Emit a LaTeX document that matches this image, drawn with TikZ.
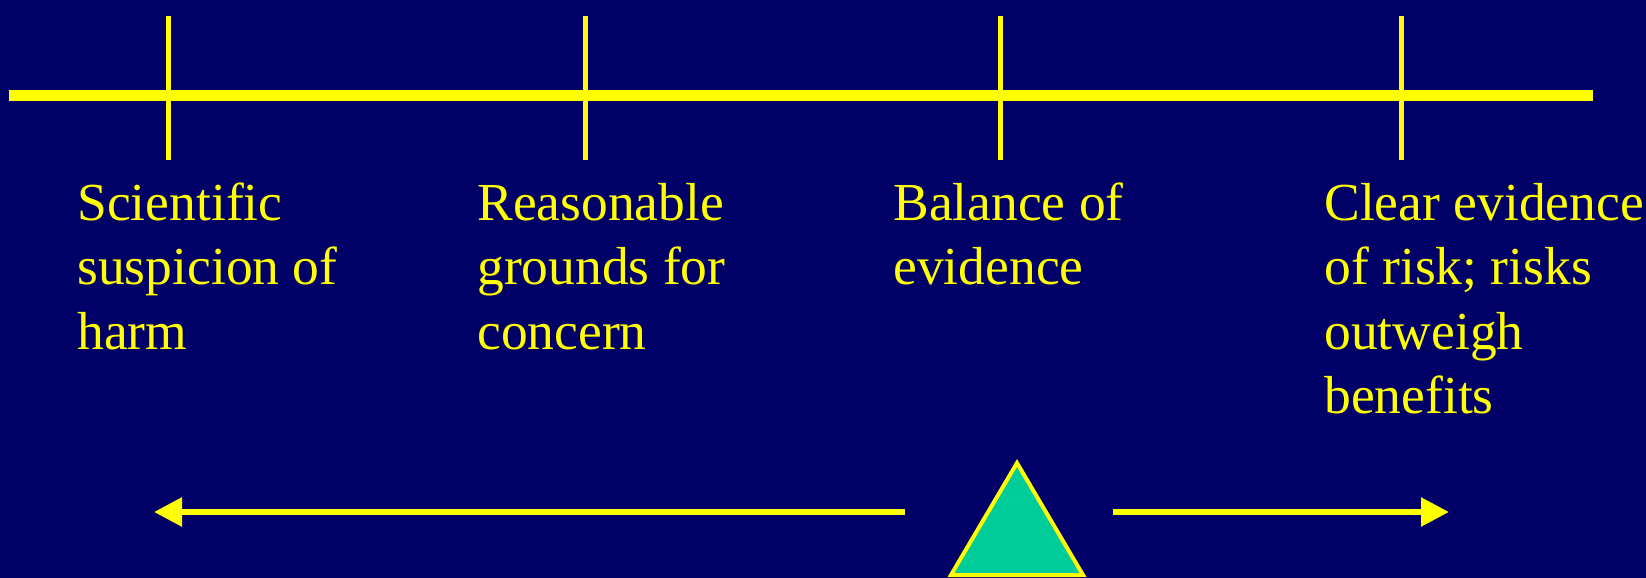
\documentclass[tikz,border=0pt]{standalone}
\usepackage{fontspec}
\setmainfont{Liberation Serif}
\usetikzlibrary{arrows.meta}
\definecolor{navybg}{RGB}{0,0,102}
\definecolor{yel}{RGB}{255,255,0}
\definecolor{teal}{RGB}{0,204,153}
\newcommand\linestack[1]{\vtop{\halign{##\hfil\cr#1\crcr}}}
\tikzset{
  axisline/.style={yel, line width=5.5pt},
  tickline/.style={yel, line width=2.5pt},
  dirarrow/.style={yel, line width=2.8pt, -{Triangle[length=14pt,width=14pt]}},
  label/.style={yel, anchor=base west, inner sep=0pt,
    font=\fontsize{26.75pt}{32.3pt}\selectfont},
}
\begin{document}
\begin{tikzpicture}[x=0.5pt,y=-0.5pt]
\fill[navybg] (0,0) rectangle (1646,578);
\useasboundingbox (0,0) rectangle (1646,578);
% main axis
\coordinate (L) at (8.5,95.5);
\coordinate (R) at (1593,95.5);
\draw[axisline] (L) -- (R);
% ticks
\foreach \x/\n in {168/t1,585/t2,1000/t3,1401/t4}{
  \coordinate (\n top) at (\x,16);
  \coordinate (\n bot) at (\x,160);
  \draw[tickline] (\n top) -- (\n bot);
}
% labels
\node[label] (s1) at (77,220) {\linestack{Scientific\cr suspicion of\cr harm}};
\node[label] (s2) at (477,220) {\linestack{Reasonable\cr grounds for\cr concern}};
\node[label] (s3) at (893,220) {\linestack{Balance of\cr evidence}};
\node[label] (s4) at (1324,220) {\linestack{Clear evidence\cr of risk; risks\cr outweigh\cr benefits}};
% arrows
\coordinate (a1s) at (905,512);
\coordinate (a1e) at (154,512);
\coordinate (a2s) at (1113,512);
\coordinate (a2e) at (1449,512);
\draw[dirarrow] (a1s) -- (a1e);
\draw[dirarrow] (a2s) -- (a2e);
% fulcrum
\coordinate (apex) at (1017,463);
\coordinate (bl) at (951,575);
\coordinate (br) at (1083,575);
\filldraw[fill=teal, draw=yel, line width=2pt, line join=miter] (apex) -- (br) -- (bl) -- cycle;
\end{tikzpicture}
\end{document}
